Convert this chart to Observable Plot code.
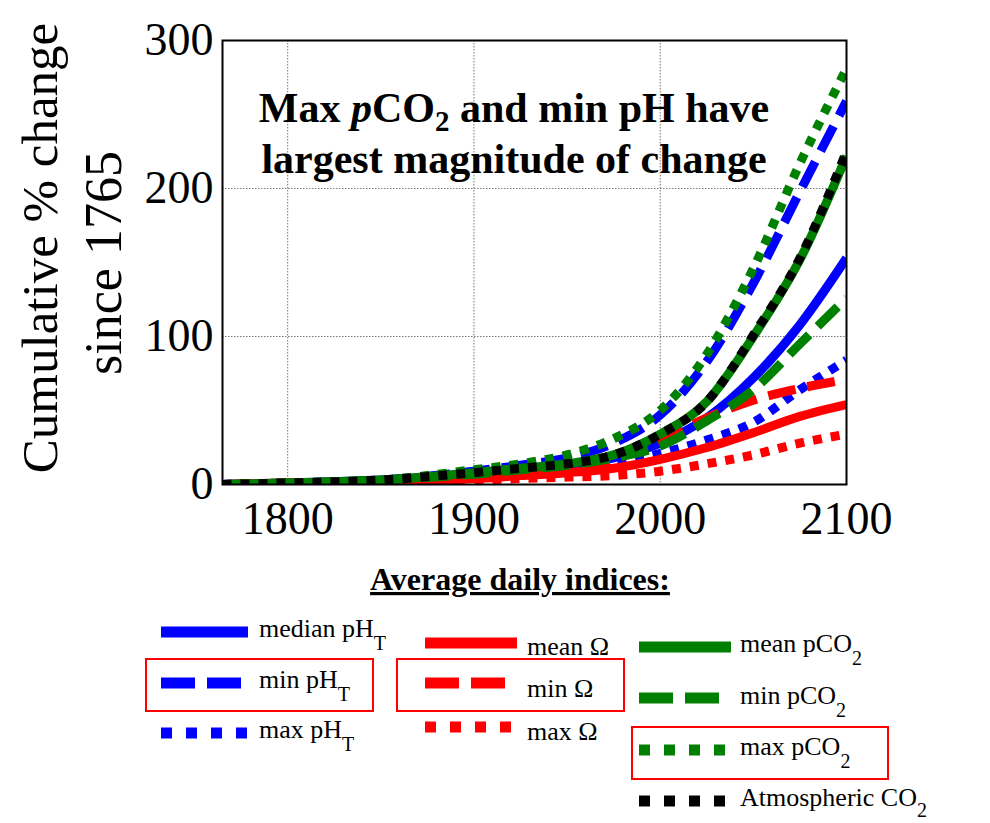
<!DOCTYPE html>
<html><head><meta charset="utf-8">
<script src="https://cdn.jsdelivr.net/npm/d3@7"></script>
<script src="https://cdn.jsdelivr.net/npm/@observablehq/plot@0.6"></script>
<style>html,body{margin:0;padding:0;background:#fff;}</style>
</head><body><div id="chart"></div>
<script>
// ---- data ----
const years      = [1765, 1800, 1850, 1900, 1925, 1950, 1975, 2000, 2025, 2050, 2075, 2100];
const medianPH   = [0, 1, 3, 7, 10, 13, 18, 28, 45, 72, 108, 153];
const minPH      = [0, 1, 3, 9, 13, 18, 28, 47, 83, 136, 198, 259];
const maxPH      = [0, 1, 2, 6, 8, 10, 14, 21, 30, 42, 64, 84];
const meanOmega  = [0, 1, 2, 4, 6, 8, 11, 17, 25, 35, 46, 54];
const minOmega   = [0, 1, 2, 5, 8, 11, 17, 30, 45, 57, 65, 71];
const maxOmega   = [0, 0, 1, 3, 4, 5, 6, 9, 14, 20, 28, 34];
const meanPCO2   = [0, 1, 3, 8, 11, 14, 20, 34, 56, 100, 152, 222];
const minPCO2    = [0, 1, 3, 7, 10, 13, 18, 26, 43, 64, 95, 126];
const maxPCO2    = [0, 1, 3, 10, 14, 20, 31, 50, 88, 146, 217, 281];
const atmCO2     = [0, 1, 3, 8, 11, 14, 20, 34, 56, 101, 153, 225];
const xTicks = [1800, 1900, 2000, 2100];
const yTicks = [0, 100, 200, 300];
const legendNames = ["median pH", "min pH", "max pH", "mean Ω", "min Ω", "max Ω", "mean pCO", "min pCO", "max pCO", "Atmospheric CO"];
const legendSubs  = ["T", "T", "T", "", "", "", "2", "2", "2", "2"];
const highlighted = ["min pH", "min Ω", "max pCO"];

// ---- styles ----
const FONT = '"Liberation Serif","Times New Roman",Times,serif';
const BLUE = "#0000ff", RED = "#ff0000", GREEN = "#008000", BLACK = "#000000";
const DASH = "28,12", DOT = "9,9";
const series = [
  {values: medianPH,  color: BLUE,  dash: null},
  {values: minPH,     color: BLUE,  dash: DASH},
  {values: maxPH,     color: BLUE,  dash: DOT},
  {values: meanOmega, color: RED,   dash: null},
  {values: minOmega,  color: RED,   dash: DASH},
  {values: maxOmega,  color: RED,   dash: DOT},
  {values: meanPCO2,  color: GREEN, dash: null},
  {values: minPCO2,   color: GREEN, dash: DASH},
  {values: maxPCO2,   color: GREEN, dash: DOT},
  {values: atmCO2,    color: BLACK, dash: DOT}
];
series.forEach((s, i) => { s.name = legendNames[i]; s.sub = legendSubs[i]; });

const rows = series.flatMap((s, k) => years.map((yr, i) => ({year: yr, value: s.values[i], k})));

const lineMarks = series.map((s, k) => Plot.line(rows.filter(d => d.k === k), {
  x: "year", y: "value", stroke: s.color, strokeWidth: 9,
  strokeDasharray: s.dash || undefined, strokeLinecap: "butt", strokeLinejoin: "round",
  curve: "monotone-x", clip: true
}));

const svg = Plot.plot({
  width: 990, height: 823,
  marginLeft: 222, marginRight: 144, marginTop: 40, marginBottom: 339,
  style: {fontFamily: FONT, background: "#fff", overflow: "visible"},
  x: {domain: [1765, 2100]},
  y: {domain: [0, 300]},
  marks: [
    Plot.ruleX(xTicks, {stroke: "#777", strokeDasharray: "1.5,1.5", strokeWidth: 1}),
    Plot.ruleY(yTicks, {stroke: "#777", strokeDasharray: "1.5,1.5", strokeWidth: 1}),
    ...lineMarks,
    Plot.frame({stroke: "#000", strokeWidth: 2}),
    Plot.axisX({ticks: xTicks, tickSize: 0, tickPadding: 17, fontSize: 46, label: null, tickFormat: d => String(d), fill: "#000"}),
    Plot.axisY({ticks: yTicks, tickSize: 0, tickPadding: 9, fontSize: 46, label: null, fill: "#000"})
  ]
});
document.getElementById("chart").appendChild(svg);

const g = d3.select(svg).append("g").attr("font-family", FONT).attr("fill", "#000")
  .attr("text-anchor", "start");

// y-axis title (two rotated lines)
g.append("text").attr("transform", "translate(57,248) rotate(-90)")
  .attr("text-anchor", "middle").attr("font-size", 51).text("Cumulative % change");
g.append("text").attr("transform", "translate(121,263) rotate(-90)")
  .attr("text-anchor", "middle").attr("font-size", 52).text("since 1765");

// annotation
const a1 = g.append("text").attr("x", 514).attr("y", 122).attr("text-anchor", "middle")
  .attr("font-size", 42).attr("font-weight", "bold");
a1.append("tspan").text("Max ");
a1.append("tspan").attr("font-style", "italic").text("p");
a1.append("tspan").text("CO");
a1.append("tspan").attr("font-size", 29).attr("dy", 9).text("2");
a1.append("tspan").attr("dy", -9).text(" and min pH have");
g.append("text").attr("x", 514).attr("y", 173).attr("text-anchor", "middle")
  .attr("font-size", 42).attr("font-weight", "bold").text("largest magnitude of change");

// legend title
g.append("text").attr("x", 520).attr("y", 590).attr("text-anchor", "middle")
  .attr("font-size", 32).attr("font-weight", "bold").attr("text-decoration", "underline")
  .text("Average daily indices:");

// legend layout
const cols = [{x1: 161, x2: 248, tx: 259}, {x1: 425, x2: 517, tx: 527}, {x1: 639, x2: 731, tx: 740}];
const place = [
  {c: 0, sy: 632, ty: 637}, {c: 0, sy: 683, ty: 688}, {c: 0, sy: 733, ty: 738},
  {c: 1, sy: 643, ty: 655}, {c: 1, sy: 683, ty: 697}, {c: 1, sy: 727, ty: 740},
  {c: 2, sy: 647, ty: 652}, {c: 2, sy: 698, ty: 704}, {c: 2, sy: 750, ty: 755}, {c: 2, sy: 801, ty: 806}
];
const legendDash = {[DASH]: "34,12", [DOT]: "11,14"};
series.forEach((s, i) => {
  const p = place[i], c = cols[p.c];
  g.append("line").attr("x1", c.x1).attr("x2", c.x2).attr("y1", p.sy).attr("y2", p.sy)
    .attr("stroke", s.color).attr("stroke-width", 11)
    .attr("stroke-dasharray", s.dash ? legendDash[s.dash] : null);
  const t = g.append("text").attr("x", c.tx).attr("y", p.ty).attr("font-size", 26)
    .attr("text-anchor", "start");
  t.append("tspan").text(s.name);
  if (s.sub) t.append("tspan").attr("font-size", 20).attr("dy", i === 9 ? 11 : 13).text(s.sub);
});
// highlight boxes
const boxes = [{x: 146, y: 659, w: 227, h: 52}, {x: 397, y: 659, w: 227, h: 52}, {x: 632, y: 727, w: 256, h: 52}];
boxes.forEach((b, i) => {
  g.append("rect").attr("x", b.x).attr("y", b.y).attr("width", b.w).attr("height", b.h)
    .attr("fill", "none").attr("stroke", RED).attr("stroke-width", 2)
    .attr("data-label", highlighted[i]);
});
</script>
</body></html>
